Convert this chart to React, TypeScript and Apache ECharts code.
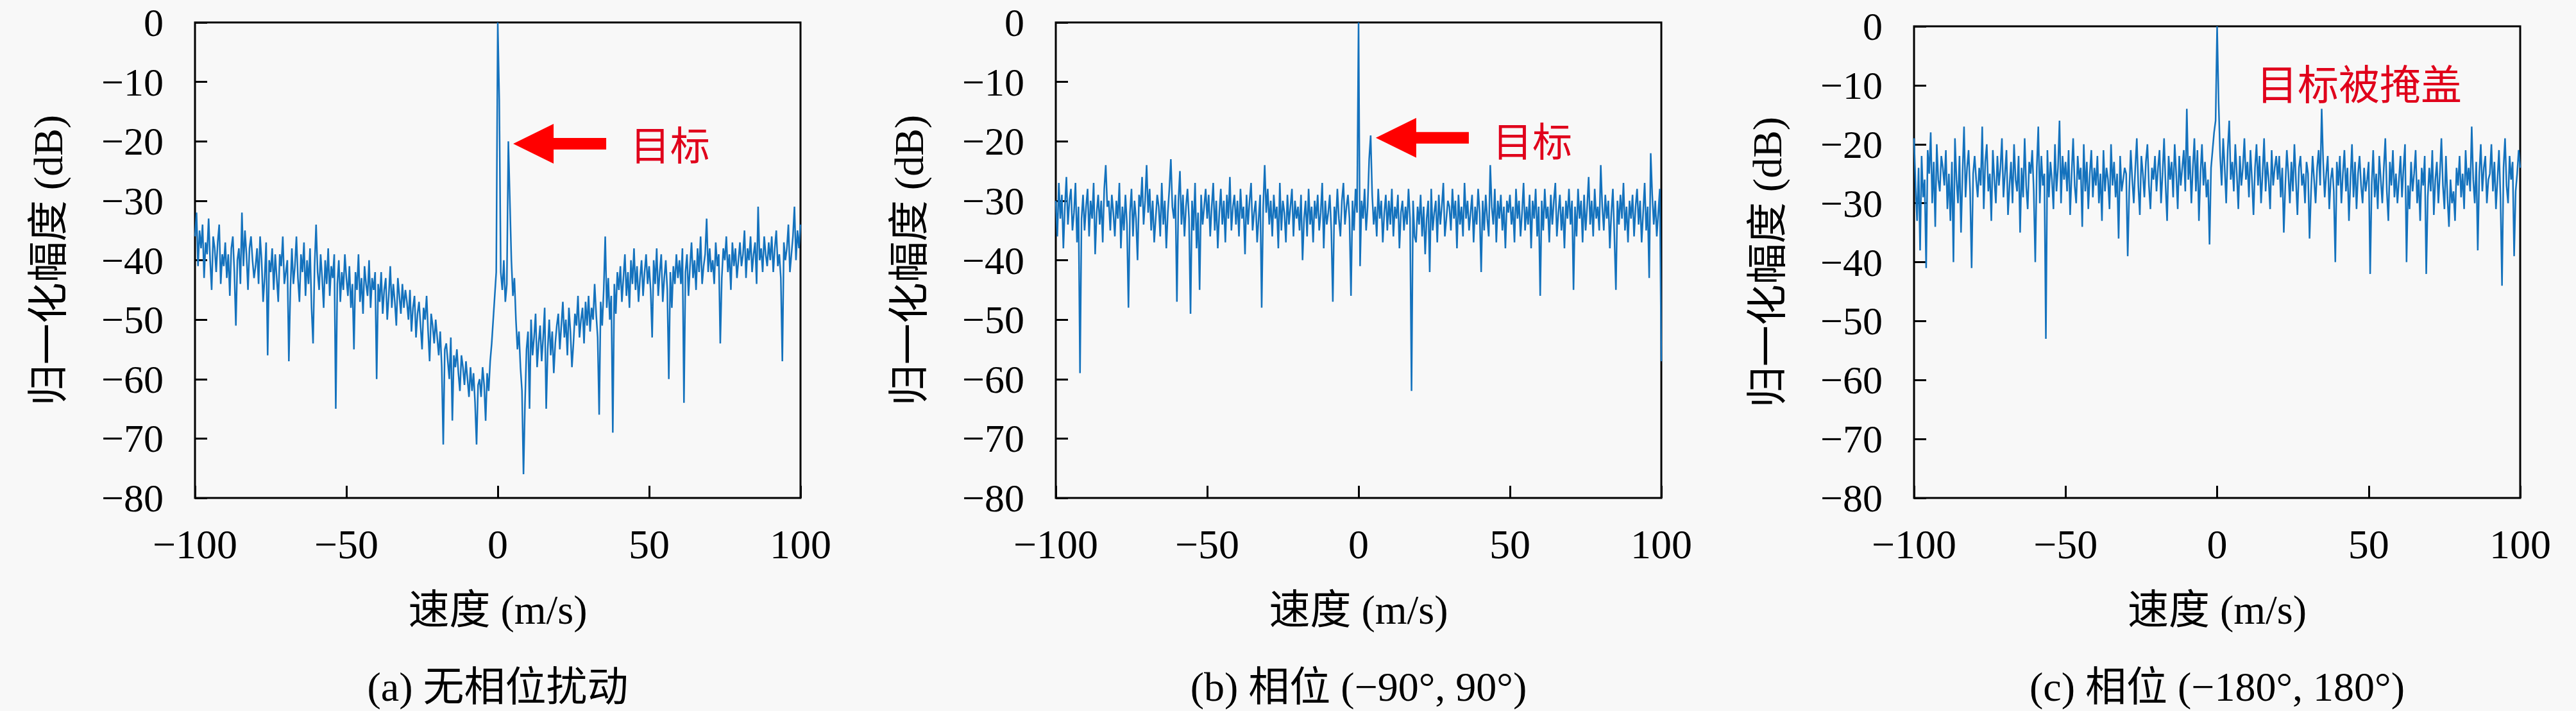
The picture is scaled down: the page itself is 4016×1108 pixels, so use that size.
import React, { useEffect, useRef } from "react";
import * as echarts from "echarts";

// ---------- data ----------
const VELOCITY_MIN = -100;
const VELOCITY_STEP = 0.5;
const VELOCITY_COUNT = 401;
const VELOCITY: number[] = Array.from({ length: VELOCITY_COUNT }, (_, i) => VELOCITY_MIN + i * VELOCITY_STEP);

const X_TICKS = [-100, -50, 0, 50, 100];
const Y_TICKS = [0, -10, -20, -30, -40, -50, -60, -70, -80];

const X_NAME = "速度 (m/s)";
const Y_NAME = "归一化幅度 (dB)";
const CAPTIONS = ["(a) 无相位扰动", "(b) 相位 (−90°, 90°)", "(c) 相位 (−180°, 180°)"];
const NOTE_LABELS = ["目标", "目标", "目标被掩盖"];
// annotation anchors in data units [velocity, dB]
const ARROW_TIPS: ([number, number] | null)[] = [[5.1, -20.4], [5.7, -19.4], null];
const NOTE_ANCHORS: [number, number][] = [[43.8, -20.3], [44.3, -19.6], [13, -9.4]];

// panel (a): no phase perturbation
const SPECTRUM_A = [
  -36,-32,-41,-35,-38,-34,-43,-37,-39,-33,-40,-45,-36,-38,-42,-37,-34,-44,-39,-41,
  -37,-43,-39,-46,-38,-36,-42,-51,-40,-38,-44,-32,-41,-35,-39,-45,-38,-36,-40,-43,
  -41,-38,-44,-36,-40,-47,-43,-37,-56,-40,-42,-38,-45,-39,-43,-47,-39,-41,-36,-44,
  -42,-40,-57,-45,-38,-44,-41,-36,-43,-47,-39,-42,-37,-46,-40,-44,-38,-48,-54,-41,
  -34,-42,-45,-39,-43,-48,-40,-44,-38,-46,-41,-43,-39,-65,-44,-40,-47,-42,-45,-39,
  -43,-46,-41,-48,-44,-55,-42,-45,-39,-47,-43,-49,-41,-44,-46,-40,-48,-43,-45,-42,
  -60,-44,-47,-42,-49,-45,-43,-50,-46,-41,-48,-44,-47,-51,-43,-46,-49,-44,-48,-45,
  -47,-50,-45,-52,-48,-46,-53,-49,-47,-51,-55,-48,-50,-46,-52,-57,-49,-51,-54,-50,
  -53,-56,-52,-58,-71,-55,-54,-57,-60,-53,-67,-56,-58,-55,-59,-62,-56,-58,-61,-57,
  -60,-63,-58,-62,-59,-64,-71,-61,-60,-63,-58,-61,-67,-59,-62,-57,-54,-50,-46,-42,
  0,-13,-42,-45,-40,-47,-44,-20,-30,-40,-46,-43,-50,-55,-52,-58,-62,-76,-64,-55,
  -52,-65,-50,-56,-53,-49,-58,-54,-51,-57,-53,-48,-65,-55,-50,-56,-52,-59,-54,-51,
  -49,-55,-51,-47,-53,-50,-56,-48,-52,-58,-54,-49,-51,-46,-53,-50,-48,-54,-47,-51,
  -46,-52,-48,-50,-44,-49,-53,-66,-47,-51,-45,-36,-48,-43,-50,-46,-69,-44,-49,-42,
  -45,-41,-47,-43,-39,-46,-42,-48,-40,-44,-38,-45,-41,-47,-43,-40,-46,-42,-39,-44,
  -41,-45,-53,-40,-44,-38,-46,-42,-39,-47,-43,-40,-45,-60,-42,-48,-41,-44,-39,-43,
  -40,-44,-38,-64,-42,-39,-46,-41,-37,-43,-40,-45,-38,-42,-36,-44,-41,-39,-33,-42,
  -38,-42,-40,-44,-37,-41,-39,-54,-43,-38,-40,-36,-42,-39,-45,-37,-41,-38,-43,-40,
  -37,-41,-39,-35,-43,-38,-40,-36,-42,-39,-37,-44,-31,-40,-38,-42,-36,-39,-41,-37,
  -40,-36,-42,-38,-35,-41,-39,-43,-57,-37,-40,-38,-34,-42,-39,-36,-31,-40,-35,-38,
  -34,
];

// panel (b): phase in (-90°, 90°)
const SPECTRUM_B = [
  -30,-36,-27,-33,-29,-38,-31,-26,-34,-30,-28,-35,-32,-27,-37,-31,-59,-33,-29,-35,
  -31,-28,-36,-30,-33,-27,-39,-32,-29,-34,-30,-37,-28,-24,-31,-30,-35,-29,-32,-36,
  -30,-33,-27,-38,-31,-35,-29,-34,-48,-32,-28,-36,-30,-33,-40,-29,-31,-26,-34,-30,
  -24,-32,-28,-35,-30,-37,-33,-29,-31,-36,-27,-34,-30,-38,-32,-28,-23,-31,-33,-29,
  -47,-30,-25,-34,-29,-36,-31,-28,-33,-49,-30,-35,-27,-38,-32,-45,-29,-34,-31,-28,
  -33,-29,-36,-31,-27,-35,-30,-38,-32,-28,-34,-30,-37,-29,-33,-26,-35,-31,-29,-34,
  -30,-36,-28,-33,-31,-39,-29,-34,-30,-27,-35,-32,-30,-37,-33,-29,-48,-31,-24,-32,
  -28,-34,-30,-36,-29,-33,-31,-38,-27,-35,-30,-32,-37,-29,-34,-31,-28,-36,-30,-33,
  -31,-35,-29,-40,-33,-30,-36,-28,-34,-31,-37,-30,-33,-29,-35,-32,-27,-38,-30,-34,
  -32,-29,-35,-47,-31,-34,-28,-33,-36,-30,-27,-34,-31,-29,-33,-46,-30,-35,-28,-32,
  0,-41,-30,-33,-28,-35,-31,-23,-19,-29,-34,-31,-36,-28,-33,-30,-37,-32,-29,-35,
  -30,-34,-28,-36,-31,-33,-29,-38,-32,-30,-35,-31,-34,-28,-33,-62,-30,-36,-37,-31,
  -34,-29,-36,-31,-39,-33,-30,-42,-28,-35,-32,-30,-37,-29,-34,-31,-27,-36,-33,-30,
  -31,-35,-28,-33,-30,-38,-29,-34,-31,-36,-27,-33,-30,-35,-32,-29,-37,-31,-34,-28,
  -32,-42,-30,-35,-29,-33,-36,-24,-31,-34,-28,-37,-30,-33,-29,-35,-31,-38,-30,-32,
  -29,-34,-31,-37,-28,-33,-30,-36,-32,-27,-35,-31,-34,-29,-38,-30,-33,-28,-36,-31,
  -46,-30,-35,-28,-33,-31,-37,-29,-34,-30,-27,-36,-32,-29,-35,-31,-38,-30,-33,-28,
  -34,-30,-45,-31,-36,-28,-33,-30,-37,-29,-35,-31,-26,-34,-30,-36,-28,-33,-31,-35,
  -24,-31,-35,-29,-33,-30,-38,-32,-28,-36,-45,-30,-34,-29,-33,-27,-35,-31,-37,-30,
  -33,-29,-36,-31,-28,-34,-30,-37,-32,-27,-35,-31,-43,-22,-29,-34,-30,-36,-32,-28,
  -57,
];

// panel (c): phase in (-180°, 180°)
const SPECTRUM_C = [
  -19,-27,-33,-24,-38,-22,-29,-26,-41,-21,-25,-18,-30,-23,-34,-20,-26,-28,-22,-24,
  -27,-21,-31,-25,-33,-23,-40,-19,-26,-30,-22,-35,-25,-17,-29,-24,-21,-28,-41,-25,
  -22,-26,-29,-24,-27,-17,-31,-23,-20,-28,-25,-33,-21,-26,-30,-22,-27,-24,-19,-29,
  -25,-21,-32,-27,-23,-30,-20,-26,-28,-22,-35,-24,-29,-19,-27,-31,-23,-25,-21,-28,
  -40,-24,-17,-30,-22,-27,-25,-53,-21,-29,-23,-26,-31,-20,-28,-24,-16,-30,-22,-26,
  -23,-28,-21,-32,-25,-19,-27,-30,-22,-26,-24,-34,-20,-28,-23,-31,-25,-21,-29,-24,
  -27,-22,-30,-25,-33,-21,-28,-24,-26,-31,-20,-27,-23,-29,-25,-36,-22,-28,-26,-24,
  -25,-39,-28,-21,-26,-30,-24,-19,-27,-32,-22,-25,-29,-23,-20,-27,-31,-24,-26,-22,
  -28,-24,-21,-30,-25,-19,-27,-33,-22,-26,-23,-29,-20,-25,-31,-22,-27,-24,-21,-28,
  -14,-26,-22,-30,-24,-19,-28,-21,-33,-25,-20,-27,-23,-29,-26,-37,-24,-21,-18,-16,
  0,-13,-22,-27,-19,-24,-30,-21,-16,-26,-23,-28,-20,-25,-31,-22,-27,-24,-19,-26,
  -23,-29,-21,-26,-32,-24,-20,-27,-22,-30,-25,-19,-28,-23,-26,-31,-21,-27,-24,-22,
  -26,-22,-29,-24,-35,-27,-21,-25,-30,-23,-28,-20,-26,-32,-24,-22,-27,-25,-30,-23,
  -25,-36,-28,-22,-26,-30,-24,-21,-27,-14,-23,-29,-25,-22,-31,-26,-24,-28,-40,-23,
  -27,-22,-30,-25,-21,-28,-24,-33,-26,-20,-29,-23,-31,-25,-22,-27,-30,-24,-28,-26,
  -23,-42,-27,-21,-29,-25,-31,-22,-26,-30,-24,-19,-28,-33,-23,-27,-21,-29,-25,-30,
  -26,-22,-29,-24,-20,-40,-27,-31,-23,-28,-25,-21,-30,-26,-33,-24,-27,-22,-42,-29,
  -24,-28,-21,-32,-26,-23,-30,-25,-19,-27,-31,-22,-29,-34,-26,-30,-28,-33,-24,-27,
  -22,-29,-25,-31,-21,-27,-24,-28,-17,-26,-30,-23,-38,-25,-20,-28,-24,-22,-30,-26,
  -25,-20,-28,-23,-31,-26,-21,-29,-44,-24,-19,-27,-30,-22,-26,-23,-39,-28,-25,-21,
  -24,
];

const SPECTRA = [SPECTRUM_A, SPECTRUM_B, SPECTRUM_C];

// ---------- layout & style ----------
const WIDTH = 4016;
const HEIGHT = 1108;
const GRIDS = [
  { left: 304, top: 35, width: 944, height: 741 },
  { left: 1646, top: 35, width: 944, height: 741 },
  { left: 2984, top: 41, width: 945, height: 735 },
];
const CAPTION_Y = 1070;
const SERIF = "'Liberation Serif', 'Noto Sans CJK SC', serif";
const LINE_COLOR = "#1472bd";
const RED = "#ff0000";
const NOTE_RED = "#e0001b";
const BG = "#f8f8f8";

const minus = (v: number) => String(v).replace("-", "\u2212");

function buildOption() {
  const xMin = Math.min(...X_TICKS);
  const xMax = Math.max(...X_TICKS);
  const yMin = Math.min(...Y_TICKS);
  const yMax = Math.max(...Y_TICKS);
  const xInt = X_TICKS[1] - X_TICKS[0];
  const yInt = Math.abs(Y_TICKS[1] - Y_TICKS[0]);
  return {
    animation: false,
    backgroundColor: BG,
    grid: GRIDS.map((g) => ({
      ...g,
      show: true,
      borderColor: "#000",
      borderWidth: 3,
      backgroundColor: "transparent",
      containLabel: false,
    })),
    xAxis: GRIDS.map((_, i) => ({
      type: "value",
      gridIndex: i,
      position: "bottom",
      min: xMin,
      max: xMax,
      interval: xInt,
      axisLine: { show: false, onZero: false },
      axisTick: { show: true, inside: true, length: 19, lineStyle: { color: "#000", width: 3 } },
      splitLine: { show: false },
      axisLabel: {
        color: "#000",
        fontFamily: SERIF,
        fontSize: 64,
        margin: 40,
        formatter: (v: number) => minus(v),
      },
      name: X_NAME,
      nameLocation: "middle",
      nameGap: 142,
      nameTextStyle: { color: "#000", fontFamily: SERIF, fontSize: 64 },
    })),
    yAxis: GRIDS.map((_, i) => ({
      type: "value",
      gridIndex: i,
      position: "left",
      min: yMin,
      max: yMax,
      interval: yInt,
      axisLine: { show: false, onZero: false },
      axisTick: { show: true, inside: true, length: 19, lineStyle: { color: "#000", width: 3 } },
      splitLine: { show: false },
      axisLabel: {
        color: "#000",
        fontFamily: SERIF,
        fontSize: 62,
        margin: 49,
        formatter: (v: number) => minus(v),
      },
      name: Y_NAME,
      nameLocation: "middle",
      nameRotate: 90,
      nameGap: 197,
      nameTextStyle: { color: "#000", fontFamily: SERIF, fontSize: 64 },
    })),
    series: SPECTRA.map((vals, i) => ({
      type: "line",
      xAxisIndex: i,
      yAxisIndex: i,
      data: vals.map((y, k) => [VELOCITY[k], y]),
      showSymbol: false,
      symbol: "none",
      silent: true,
      clip: true,
      lineStyle: { color: LINE_COLOR, width: 2.5 },
    })),
  };
}

function buildGraphic(chart: echarts.ECharts) {
  const els: any[] = [];
  GRIDS.forEach((g, i) => {
    els.push({
      type: "text",
      x: g.left + g.width / 2,
      y: CAPTION_Y,
      z: 10,
      style: {
        text: CAPTIONS[i],
        fill: "#000",
        fontFamily: SERIF,
        fontSize: 64,
        align: "center",
        verticalAlign: "middle",
        textAlign: "center",
        textVerticalAlign: "middle",
      },
    });
    const tip = ARROW_TIPS[i];
    if (tip) {
      const [tx, ty] = chart.convertToPixel({ gridIndex: i } as any, tip) as number[];
      els.push({
        type: "polygon",
        z: 10,
        shape: {
          points: [
            [tx, ty],
            [tx + 63, ty - 31],
            [tx + 63, ty - 9],
            [tx + 145, ty - 9],
            [tx + 145, ty + 9],
            [tx + 63, ty + 9],
            [tx + 63, ty + 31],
          ],
        },
        style: { fill: RED, stroke: "none" },
      });
    }
    const [nx, ny] = chart.convertToPixel({ gridIndex: i } as any, NOTE_ANCHORS[i]) as number[];
    els.push({
      type: "text",
      x: nx,
      y: ny,
      z: 10,
      style: {
        text: NOTE_LABELS[i],
        fill: NOTE_RED,
        fontFamily: "'Noto Sans CJK SC', sans-serif",
        fontSize: i === 2 ? 64 : 62,
        align: "left",
        verticalAlign: "middle",
        textAlign: "left",
        textVerticalAlign: "middle",
      },
    });
  });
  return els;
}

export default function App() {
  const ref = useRef<HTMLDivElement>(null);
  useEffect(() => {
    document.body.style.margin = "0";
    document.body.style.background = BG;
    if (!ref.current) return;
    const chart = echarts.init(ref.current, null, { renderer: "svg" });
    chart.setOption(buildOption() as any);
    chart.setOption({ graphic: buildGraphic(chart) } as any);
    return () => chart.dispose();
  }, []);
  return <div ref={ref} style={{ width: WIDTH, height: HEIGHT, background: BG }} />;
}
